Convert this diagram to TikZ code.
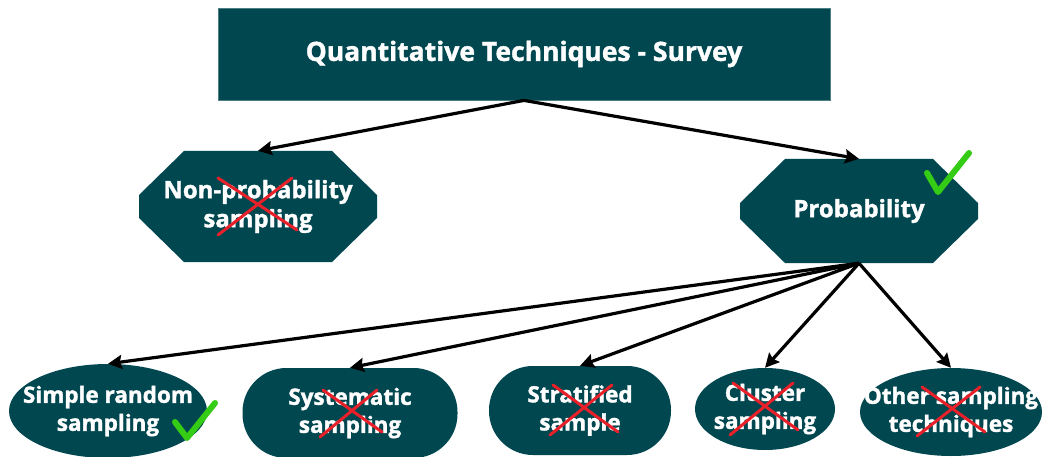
\documentclass[tikz,border=0pt]{standalone}
\usepackage{fontspec}
\setmainfont{Open Sans}[BoldFeatures={FakeBold=1.5}]
\usetikzlibrary{arrows.meta}
\definecolor{surveyteal}{RGB}{1,71,79}
\definecolor{okgreen}{RGB}{52,204,20}
\definecolor{nored}{RGB}{232,32,42}
\begin{document}
\begin{tikzpicture}[x=1pt,y=-1pt,
	box/.style={text=white,align=center,inner sep=0pt,
		font=\bfseries\fontsize{22.5}{28}\selectfont},
	chambox/.style={box,minimum width=238pt,minimum height=#1,
		font=\bfseries\fontsize{24}{29}\selectfont,
		path picture={\fill[surveyteal]
			([xshift=45pt]path picture bounding box.north west) --
			([xshift=-45pt]path picture bounding box.north east) --
			([yshift=-44pt]path picture bounding box.north east) --
			([yshift=44pt]path picture bounding box.south east) --
			([xshift=-45pt]path picture bounding box.south east) --
			([xshift=45pt]path picture bounding box.south west) --
			([yshift=44pt]path picture bounding box.south west) --
			([yshift=-44pt]path picture bounding box.north west) -- cycle;}},
	ovalbox/.style 2 args={box,minimum width=#1,minimum height=#2,
		path picture={\fill[surveyteal] (path picture bounding box.center)
			ellipse [x radius=#1/2, y radius=#2/2];}},
	pillbox/.style 2 args={box,fill=surveyteal,rounded corners=44pt,
		minimum width=#1,minimum height=#2},
	link/.style={line width=3.2pt,-{Stealth[length=14pt,width=14pt,inset=2pt]}},
	nope/.style={nored,line width=3pt,line cap=round},
	yes/.style={okgreen,line width=6pt,line cap=round,line join=round}]
	\useasboundingbox (0,0) rectangle (1043,457);
	\node[box,fill=surveyteal,draw=surveyteal!70,line width=0.8pt,minimum width=612pt,minimum height=92pt,
		font=\bfseries\fontsize{26.5}{30}\selectfont] (survey) at (524,54) {Quantitative Techniques - Survey};
	\node[chambox=111pt] (nonprob) at (258,206.5) {Non-probability\\ sampling};
	\node[chambox=104pt] (prob) at (859,211) {Probability};
	\node[ovalbox={198pt}{94pt}] (simple) at (108,411) {Simple random\\ sampling};
	\node[pillbox={215pt}{90pt}] (system) at (350,413) {Systematic\\ sampling};
	\node[pillbox={182pt}{89pt}] (strat) at (580,410.5) {Stratified\\ sample};
	\node[ovalbox={140pt}{82pt}] (cluster) at (765,409) {Cluster\\ sampling};
	\node[ovalbox={182pt}{88pt}] (other) at (951,412) {Other sampling\\ techniques};
	\draw[link] (survey.south) -- (nonprob.north);
	\draw[link] (survey.south) -- (prob.north);
	\draw[link] (prob.south) -- (simple.north);
	\draw[link] (prob.south) -- (system.north);
	\draw[link] (prob.south) -- (strat.north);
	\draw[link] (prob.south) -- (cluster.north);
	\draw[link] (prob.south) -- (other.north);
	% ticks and crosses
	\draw[yes] (927,173) -- (938,192) -- (969,153);
	\draw[yes] (175,422) -- (187,438) -- (215,403);
	\draw[nope] (218,178) -- (297,230) (292,178) -- (218,235);
	\draw[nope] (323,390) -- (382,432) (377,390) -- (320,437);
	\draw[nope] (553,385) -- (618,432) (612,385) -- (550,435);
	\draw[nope] (733,383) -- (798,430) (793,383) -- (730,435);
	\draw[nope] (922,387) -- (985,432) (980,387) -- (917,436);
\end{tikzpicture}
\end{document}
